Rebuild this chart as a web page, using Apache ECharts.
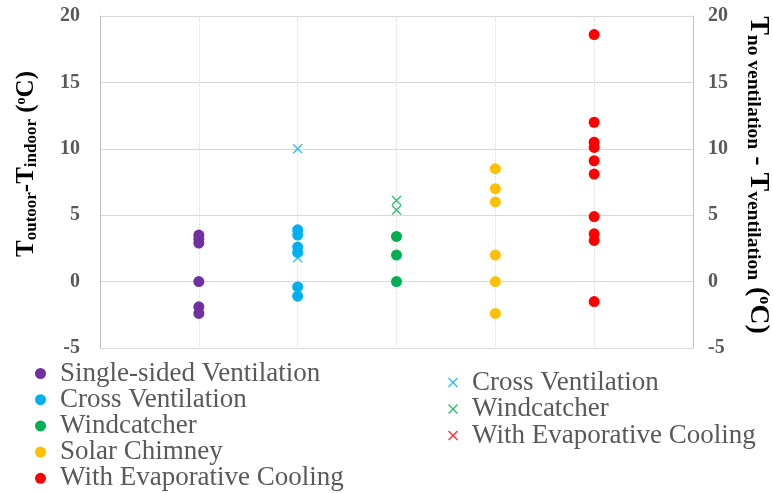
<!DOCTYPE html>
<html>
<head>
<meta charset="utf-8">
<script src="https://cdn.jsdelivr.net/npm/echarts@6/dist/echarts.min.js"></script>
<style>
  html, body { margin: 0; padding: 0; background: #fff; }
  #chart { width: 773px; height: 493px; }
</style>
</head>
<body>
<div id="chart"></div>
<script>
// x position of each strategy column
var columns = [1, 2, 3, 4, 5];
var yTicks = [-5, 0, 5, 10, 15, 20];

// circles: T outdoor - T indoor
var singleSided = [3.5, 3.2, 2.9, 0, -1.9, -2.4];
var crossVent = [3.9, 3.5, 2.6, 2.2, -0.4, -1.1];
var windcatcher = [3.4, 2.0, 0];
var solarChimney = [8.5, 7.0, 6.0, 2.0, 0, -2.4];
var evapCooling = [18.6, 12.0, 10.5, 10.1, 9.1, 8.1, 4.9, 3.6, 3.1, -1.5];

// crosses: T no ventilation - T ventilation
var crossVentX = [10.0, 1.8];
var windcatcherX = [6.1, 5.4];
var evapCoolingX = [];

var colors = {
    purple: '#7030A0',
    blue: '#00B0F0',
    green: '#00B050',
    yellow: '#FFC000',
    red: '#FF0000'
};

var serif = '"Liberation Serif", "Times New Roman", serif';
var grey = '#595959';
var crossIcon = 'path://M1,0 L5,4 L9,0 L10,1 L6,5 L10,9 L9,10 L5,6 L1,10 L0,9 L4,5 L0,1 Z';

function pts(col, values) {
    return values.map(function (v) { return [columns[col], v]; });
}

function dotSeries(name, col, values, color) {
    return {
        name: name,
        type: 'scatter',
        symbol: 'circle',
        symbolSize: 11,
        itemStyle: { color: color, opacity: 1 },
        data: pts(col, values)
    };
}

function crossSeries(name, col, values, color) {
    return {
        name: name,
        type: 'scatter',
        symbol: crossIcon,
        symbolSize: 10,
        itemStyle: { color: color, opacity: 0.8 },
        data: pts(col, values)
    };
}

var chart = echarts.init(document.getElementById('chart'));

var richLeft = {
    T: { fontFamily: serif, fontWeight: 'bold', fontSize: 25, color: grey, verticalAlign: 'top', lineHeight: 26 },
    s: { fontFamily: serif, fontWeight: 'bold', fontSize: 17, color: grey, verticalAlign: 'bottom', lineHeight: 18 },
    o: { fontFamily: serif, fontWeight: 'bold', fontSize: 14, color: grey, verticalAlign: 'top', lineHeight: 18 }
};
var richRight = {
    T: { fontFamily: serif, fontWeight: 'bold', fontSize: 28, color: grey, verticalAlign: 'top', lineHeight: 29 },
    s: { fontFamily: serif, fontWeight: 'bold', fontSize: 19.5, color: grey, verticalAlign: 'bottom', lineHeight: 20 },
    o: { fontFamily: serif, fontWeight: 'bold', fontSize: 16, color: grey, verticalAlign: 'top', lineHeight: 20 }
};

chart.setOption({
    animation: false,
    grid: { left: 100, right: 80, top: 16, bottom: 145 },
    xAxis: {
        type: 'value',
        min: 0,
        max: 6,
        interval: 1,
        axisLine: { show: false },
        axisTick: { show: false },
        axisLabel: { show: false },
        splitLine: { lineStyle: { color: '#d9d9d9', type: 'dotted', width: 1 } }
    },
    yAxis: [
        {
            type: 'value',
            min: yTicks[0],
            max: yTicks[yTicks.length - 1],
            interval: 5,
            position: 'left',
            axisLine: { show: true, lineStyle: { color: '#bfbfbf' } },
            axisTick: { show: false },
            axisLabel: { margin: 20, fontFamily: serif, fontWeight: 'bold', fontSize: 20, color: grey },
            splitLine: { lineStyle: { color: '#d9d9d9' } }
        },
        {
            type: 'value',
            min: yTicks[0],
            max: yTicks[yTicks.length - 1],
            interval: 5,
            position: 'right',
            axisLine: { show: true, lineStyle: { color: '#bfbfbf' } },
            axisTick: { show: false },
            axisLabel: { margin: 15, fontFamily: serif, fontWeight: 'bold', fontSize: 20, color: grey },
            splitLine: { show: false }
        }
    ],
    legend: [
        {
            orient: 'vertical',
            left: 35,
            top: 360,
            height: 150,
            padding: 0,
            itemWidth: 11,
            itemHeight: 11,
            itemGap: -0.8,
            icon: 'circle',
            textStyle: { fontFamily: serif, fontSize: 27, color: grey, lineHeight: 26, padding: [0, 0, 0, 9] },
            data: ['Single-sided Ventilation', 'Cross Ventilation', 'Windcatcher', 'Solar Chimney', 'With Evaporative Cooling']
        },
        {
            orient: 'vertical',
            left: 448,
            top: 369,
            height: 120,
            padding: 0,
            itemWidth: 10,
            itemHeight: 10,
            itemGap: -0.5,
            textStyle: { fontFamily: serif, fontSize: 27, color: grey, lineHeight: 26, padding: [0, 0, 0, 9] },
            formatter: function (name) { return name.trim(); },
            data: ['Cross Ventilation ', 'Windcatcher ', 'With Evaporative Cooling ']
        }
    ],
    graphic: [
        {
            type: 'text',
            x: 27,
            y: 164,
            rotation: Math.PI / 2,
            style: {
                text: '{T|T}{s|outoor}{T|-T}{s|indoor}{T| (}{o|o}{T|C)}',
                rich: richLeft,
                align: 'center',
                verticalAlign: 'middle'
            }
        },
        {
            type: 'text',
            x: 758,
            y: 175,
            rotation: -Math.PI / 2,
            style: {
                text: '{T|T}{s|no ventilation}{T| - T}{s|ventilation}{T| (}{o|o}{T|C)}',
                rich: richRight,
                align: 'center',
                verticalAlign: 'middle'
            }
        }
    ],
    series: [
        dotSeries('Single-sided Ventilation', 0, singleSided, colors.purple),
        dotSeries('Cross Ventilation', 1, crossVent, colors.blue),
        dotSeries('Windcatcher', 2, windcatcher, colors.green),
        dotSeries('Solar Chimney', 3, solarChimney, colors.yellow),
        dotSeries('With Evaporative Cooling', 4, evapCooling, colors.red),
        crossSeries('Cross Ventilation ', 1, crossVentX, colors.blue),
        crossSeries('Windcatcher ', 2, windcatcherX, colors.green),
        crossSeries('With Evaporative Cooling ', 4, evapCoolingX, colors.red)
    ]
});
</script>
</body>
</html>
